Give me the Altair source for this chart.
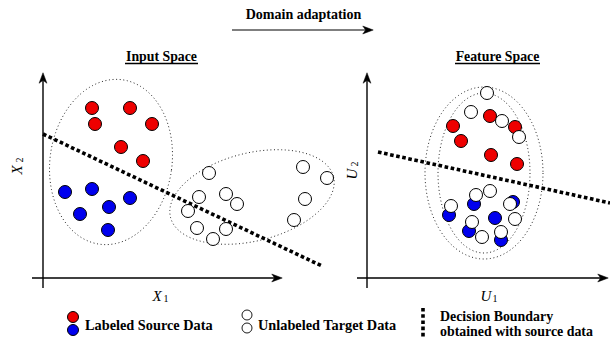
import altair as alt
import pandas as pd
import numpy as np

W, H = 610, 341

# ---------------- data (diagram units, origin top-left) ----------------
red_in_x = [92, 130, 95, 152, 121, 143]
red_in_y = [108, 108, 124, 124, 147, 161]
blue_in_x = [65, 92, 130, 109, 80, 108]
blue_in_y = [192, 189, 198, 207, 214, 230]
tgt_in_x = [209, 199, 226, 237, 188, 197, 226, 213, 303, 327, 305, 294]
tgt_in_y = [173, 197, 194, 204, 211, 228, 229, 239, 167, 178, 199, 220]

red_ft_x = [453, 461, 490, 515, 491, 517]
red_ft_y = [126, 141, 116, 127, 155, 164]
blue_ft_x = [449, 474, 495, 513, 469, 501]
blue_ft_y = [215, 204, 218, 202, 231, 240]
tgt_ft_x = [487, 471, 502, 519, 476, 490, 451, 510, 515, 472, 482, 501]
tgt_ft_y = [93, 112, 121, 137, 195, 191, 206, 204, 219, 222, 237, 232]

# decision boundaries: (x1, y1, x2, y2)
boundary_names = ["input", "feature"]
boundary_x1 = [43, 378]
boundary_y1 = [134, 152]
boundary_x2 = [322, 610]
boundary_y2 = [266, 203]

# dotted ellipses: centre, radii, rotation (deg)
ell_cx = [111, 252, 484, 484]
ell_cy = [162, 197, 173, 173]
ell_rx = [61, 84, 59, 46]
ell_ry = [83, 44, 86, 80]
ell_rot = [8, -14, 0, 0]

# axes lines: (x1, y1, x2, y2)
axis_x1 = [43, 32, 367, 357, 232]
axis_y1 = [288, 278, 288, 278, 30]
axis_x2 = [43, 277, 367, 603, 368]
axis_y2 = [78, 278, 78, 278, 30]
axis_col = ["#000000", "#000000", "#000000", "#000000", "#555555"]

# arrowheads (centre) and direction angle
head_x = [43, 277, 367, 603, 368]
head_y = [78, 278, 78, 278, 30]
head_ang = [270, 0, 270, 0, 0]

# underline rules for titles
ul_x1 = [125, 455]
ul_x2 = [198, 540]
ul_y = [63.5, 63.5]

# legend symbols
leg_fill_x = [73, 73]
leg_fill_y = [317, 330]
leg_fill_col = ["#ee0000", "#0000ee"]
leg_open_x = [247, 247]
leg_open_y = [315, 328]
leg_line = [423, 308, 423, 338]

# texts
bold_center_txt = ["Domain adaptation", "Input Space", "Feature Space"]
bold_center_x = [303.5, 161.5, 497.5]
bold_center_y = [15, 57, 57]
bold_center_size = [14, 13.8, 13.8]

bold_left_txt = ["Labeled Source Data", "Unlabeled Target Data",
                 "Decision Boundary", "obtained with source data"]
bold_left_x = [85, 258, 440, 440]
bold_left_y = [326, 326, 317, 332]
bold_left_size = [14.3, 14.3, 13.9, 13.9]

ital_txt = ["X", "U"]
ital_x = [157, 486]
ital_y = [296, 296]
sub_txt = ["1", "1"]
sub_x = [166, 495]
sub_y = [299, 299]

rot_txt = ["X", "U"]
rot_x = [17, 352]
rot_y = [170, 174]
rot_sub_txt = ["2", "2"]
rot_sub_x = [20, 355]
rot_sub_y = [160, 164]

# ---------------- helpers ----------------
xs = alt.Scale(domain=[0, W], range=[0, W])
ys = alt.Scale(domain=[0, H], range=[0, H])


def X(f="x"):
    return alt.X(f"{f}:Q", scale=xs, axis=None)


def Y(f="y"):
    return alt.Y(f"{f}:Q", scale=ys, axis=None)


def pts(xv, yv, fill, size=169, stroke="#000000", sw=1.0):
    df = pd.DataFrame({"x": xv, "y": yv})
    return alt.Chart(df).mark_point(
        shape="circle", filled=True, fill=fill, stroke=stroke,
        strokeWidth=sw, size=size, opacity=1
    ).encode(x=X(), y=Y())


layers = []

# ellipses
rows = []
t = np.linspace(0, 2 * np.pi, 241)
for i in range(len(ell_cx)):
    th = np.deg2rad(ell_rot[i])
    ex = ell_rx[i] * np.cos(t)
    ey = ell_ry[i] * np.sin(t)
    px = ell_cx[i] + ex * np.cos(th) - ey * np.sin(th)
    py = ell_cy[i] + ex * np.sin(th) + ey * np.cos(th)
    for k in range(len(t)):
        rows.append({"e": i, "o": k, "x": px[k], "y": py[k]})
ell_df = pd.DataFrame(rows)
layers.append(
    alt.Chart(ell_df).mark_line(
        color="#222222", strokeWidth=1, strokeDash=[1, 2.6]
    ).encode(x=X(), y=Y(), detail="e:N", order="o:Q")
)

# axes lines
ax_df = pd.DataFrame({"x": axis_x1, "y": axis_y1, "x2": axis_x2,
                      "y2": axis_y2, "c": axis_col})
layers.append(
    alt.Chart(ax_df).mark_rule(strokeWidth=1.4).encode(
        x=X(), y=Y(), x2="x2:Q", y2="y2:Q",
        color=alt.Color("c:N", scale=None)
    )
)

# arrowheads
arrow_path = "M 1 0 L -1 -0.75 L -0.45 0 L -1 0.75 Z"
hd_df = pd.DataFrame({"x": head_x, "y": head_y, "a": head_ang})
layers.append(
    alt.Chart(hd_df).mark_point(
        shape=arrow_path, filled=True, fill="#000000", stroke="#000000",
        strokeWidth=0.5, size=110, opacity=1
    ).encode(x=X(), y=Y(), angle=alt.Angle("a:Q", scale=None))
)

# title underlines
ul_df = pd.DataFrame({"x": ul_x1, "x2": ul_x2, "y": ul_y})
layers.append(
    alt.Chart(ul_df).mark_rule(strokeWidth=1.3, color="#000000").encode(
        x=X(), x2="x2:Q", y=Y()
    )
)

# decision boundaries
bd_df = pd.DataFrame({"n": boundary_names, "x": boundary_x1, "y": boundary_y1,
                      "x2": boundary_x2, "y2": boundary_y2})
layers.append(
    alt.Chart(bd_df).mark_rule(
        strokeWidth=3.6, color="#000000", strokeDash=[3.6, 2.6]
    ).encode(x=X(), y=Y(), x2="x2:Q", y2="y2:Q")
)

# data points
layers.append(pts(red_in_x, red_in_y, "#ee0000"))
layers.append(pts(blue_in_x, blue_in_y, "#0000ee"))
layers.append(pts(tgt_in_x, tgt_in_y, "#ffffff"))
layers.append(pts(red_ft_x, red_ft_y, "#ee0000"))
layers.append(pts(blue_ft_x, blue_ft_y, "#0000ee"))
layers.append(pts(tgt_ft_x, tgt_ft_y, "#ffffff"))

# legend symbols
lf_df = pd.DataFrame({"x": leg_fill_x, "y": leg_fill_y, "c": leg_fill_col})
layers.append(
    alt.Chart(lf_df).mark_point(
        shape="circle", filled=True, stroke="#000000", strokeWidth=1,
        size=121, opacity=1
    ).encode(x=X(), y=Y(), fill=alt.Fill("c:N", scale=None))
)
layers.append(pts(leg_open_x, leg_open_y, "#ffffff", size=100, sw=0.9))
ll_df = pd.DataFrame({"x": [leg_line[0]], "y": [leg_line[1]],
                      "x2": [leg_line[2]], "y2": [leg_line[3]]})
layers.append(
    alt.Chart(ll_df).mark_rule(
        strokeWidth=3.6, color="#000000", strokeDash=[3.6, 2.6]
    ).encode(x=X(), y=Y(), x2="x2:Q", y2="y2:Q")
)

FONT = "'Liberation Serif', 'Times New Roman', 'DejaVu Serif', serif"

# bold centred texts
bc_df = pd.DataFrame({"x": bold_center_x, "y": bold_center_y,
                      "t": bold_center_txt, "s": bold_center_size})
layers.append(
    alt.Chart(bc_df).mark_text(
        font=FONT, fontWeight="bold", align="center", baseline="middle",
        color="#000000"
    ).encode(x=X(), y=Y(), text="t:N", size=alt.Size("s:Q", scale=None))
)

# bold left texts
bl_df = pd.DataFrame({"x": bold_left_x, "y": bold_left_y, "t": bold_left_txt,
                      "s": bold_left_size})
layers.append(
    alt.Chart(bl_df).mark_text(
        font=FONT, fontWeight="bold", align="left", baseline="middle",
        color="#000000"
    ).encode(x=X(), y=Y(), text="t:N", size=alt.Size("s:Q", scale=None))
)

# axis labels
it_df = pd.DataFrame({"x": ital_x, "y": ital_y, "t": ital_txt})
layers.append(
    alt.Chart(it_df).mark_text(
        font=FONT, fontStyle="italic", align="center", baseline="middle",
        fontSize=15, color="#000000"
    ).encode(x=X(), y=Y(), text="t:N")
)
sb_df = pd.DataFrame({"x": sub_x, "y": sub_y, "t": sub_txt})
layers.append(
    alt.Chart(sb_df).mark_text(
        font=FONT, align="center", baseline="middle",
        fontSize=10, color="#000000"
    ).encode(x=X(), y=Y(), text="t:N")
)
rt_df = pd.DataFrame({"x": rot_x, "y": rot_y, "t": rot_txt})
layers.append(
    alt.Chart(rt_df).mark_text(
        font=FONT, fontStyle="italic", align="center", baseline="middle",
        fontSize=15, angle=270, color="#000000"
    ).encode(x=X(), y=Y(), text="t:N")
)
rs_df = pd.DataFrame({"x": rot_sub_x, "y": rot_sub_y, "t": rot_sub_txt})
layers.append(
    alt.Chart(rs_df).mark_text(
        font=FONT, align="center", baseline="middle",
        fontSize=10, angle=270, color="#000000"
    ).encode(x=X(), y=Y(), text="t:N")
)

chart = alt.layer(*layers).properties(
    width=W, height=H, padding=0,
    autosize=alt.AutoSizeParams(type="none"),
    background="#ffffff"
).configure_view(stroke=None)

chart.save("out.html", embed_options={"renderer": "svg", "actions": False})
